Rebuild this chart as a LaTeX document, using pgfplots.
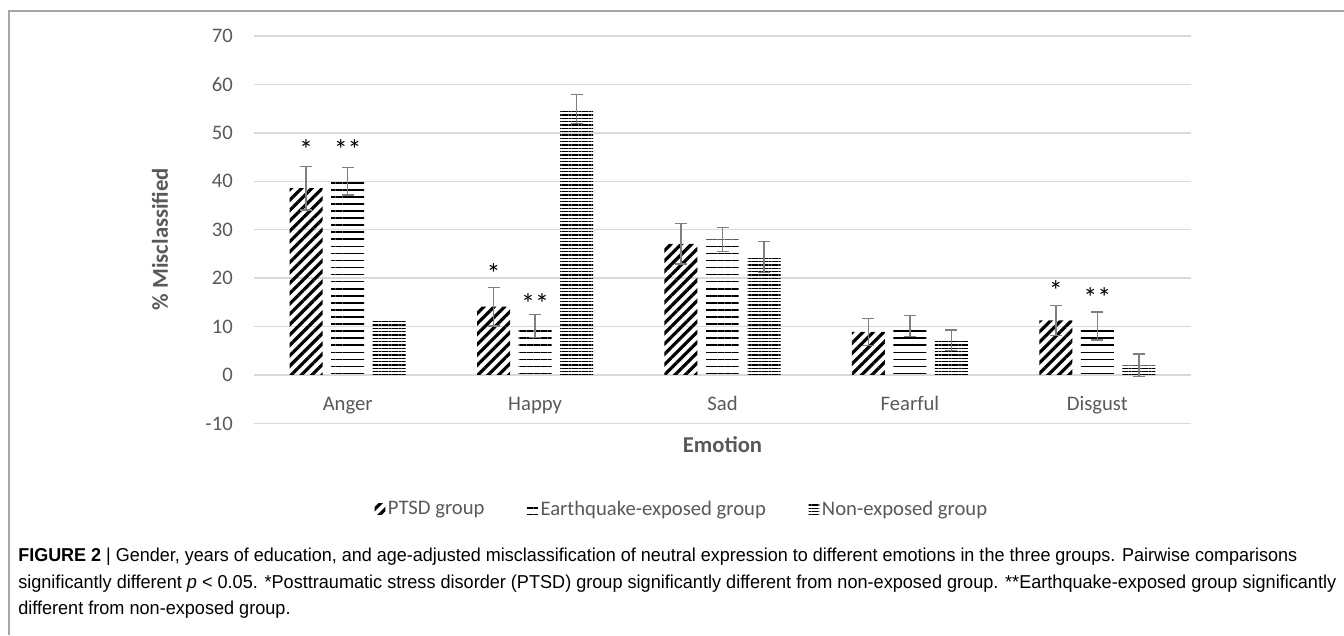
\documentclass[border=0pt]{standalone}
\usepackage{fontspec}
\setmainfont{Carlito}
\newfontfamily\capfont{Liberation Sans}
\usepackage{graphicx}
\usepackage{pgfplots}
\pgfplotsset{compat=1.18}
\usetikzlibrary{patterns.meta}
\definecolor{txt}{HTML}{595959}
\definecolor{gridc}{HTML}{D9D9D9}
\definecolor{errc}{HTML}{7F7F7F}
\definecolor{framec}{HTML}{A6A6A6}
\newsavebox\capA
\newsavebox\capB
\newsavebox\capC
\begin{document}%
\sbox\capA{\capfont\fontsize{14}{16}\selectfont {\bfseries FIGURE 2} | Gender, years of education, and age-adjusted misclassification of neutral expression to different emotions in the three groups. Pairwise comparisons}%
\sbox\capB{\capfont\fontsize{14}{16}\selectfont significantly different {\itshape p} < 0.05. *Posttraumatic stress disorder (PTSD) group significantly different from non-exposed group. **Earthquake-exposed group significantly}%
\sbox\capC{\capfont\fontsize{14}{16}\selectfont different from non-exposed group.}%
\pgfmathsetmacro\sA{959.25/(\wd\capA/1pt)}%
\pgfmathsetmacro\sB{988.5/(\wd\capB/1pt)}%
\begin{tikzpicture}
\useasboundingbox (0,0) rectangle (1008pt,476.25pt);
\draw[framec, line width=1.2pt] (6.75pt,0) -- (6.75pt,468pt) -- (1008pt,468pt);
\begin{axis}[
 at={(190.5pt,158.7pt)}, anchor=south west,
 scale only axis, width=702.75pt, height=290.5pt,
 xmin=-0.5, xmax=4.5, ymin=-10, ymax=70,
 ytick={-10,0,10,20,30,40,50,60,70},
 yticklabels={-10,0,10,20,30,40,50,60,70},
 xtick={0,1,2,3,4},
 xticklabels={Anger,Happy,Sad,Fearful,Disgust},
 axis line style={draw=none},
 major tick length=0pt,
 ymajorgrids, grid style={gridc, line width=1.1pt},
 ticklabel style={font=\fontsize{15.5}{18}\selectfont, text=txt},
 yticklabel style={anchor=east, inner sep=0pt, xshift=-15.75pt},
 xticklabel style={anchor=base, inner sep=0pt, yshift=10pt},
 xlabel={Emotion}, ylabel={\% Misclassified},
 every axis x label/.style={at={(axis description cs:0.5,-0.0558)}, anchor=center,
   font=\fontsize{17}{20}\selectfont\bfseries, text=txt},
 every axis y label/.style={at={(axis description cs:-0.1003,0.476)}, rotate=90, anchor=center,
   font=\fontsize{17}{20}\selectfont\bfseries, text=txt},
 ybar, bar shift=0pt, bar width=0.176,
 error bars/y dir=both, error bars/y explicit,
 error bars/error bar style={draw=errc, line width=1.1pt},
 error bars/error mark options={draw=errc, rotate=90, mark size=4.5pt, line width=1.1pt},
 legend columns=3,
 legend style={at={(axis description cs:0.457,-0.221)}, anchor=center, draw=none, fill=none,
   font=\fontsize{15.5}{18}\selectfont, text=txt,
   /tikz/every even column/.append style={column sep=30pt}},
 legend image code/.code={\fill[#1] (0pt,-4pt) rectangle (8pt,4pt);},
]
\addplot[draw=none, pattern={Lines[angle=45,distance=5.5pt,line width=2.4pt]}, pattern color=black]
 table[x=x, y=y, y error=e] {
x y e
-0.2216 38.6 4.5
0.7784 14.1 4.0
1.7784 27.1 4.2
2.7784 8.9 2.8
3.7784 11.3 3.1
};
\addlegendentry{PTSD group}
\addplot[draw=none, pattern={Lines[angle=0,distance=5.3pt,line width=1.2pt]}, pattern color=black]
 table[x=x, y=y, y error=e] {
x y e
0 40.0 2.8
1 10.1 2.4
2 28.0 2.5
3 10.1 2.2
4 10.1 2.9
};
\addlegendentry{Earthquake-exposed group}
\addplot[draw=none, pattern={Lines[angle=0,distance=2.5pt,line width=1.2pt]}, pattern color=black]
 table[x=x, y=y, y error=e] {
x y e
1.2216 54.9 3.0
2.2216 24.4 3.2
3.2216 7.2 2.1
4.2216 2.0 2.3
};
\addlegendentry{Non-exposed group}
\addplot[draw=none, pattern={Lines[angle=0,distance=2.5pt,line width=1.2pt]}, pattern color=black, forget plot, error bars/y dir=none]
 table[x=x, y=y] {
x y
0.2216 11.0
};
\node[font=\fontsize{21}{24}\selectfont, inner sep=0pt, anchor=base] at (axis cs:-0.2216,44.5) {*};
\node[font=\fontsize{21}{24}\selectfont, inner sep=0pt, anchor=base] at (axis cs:0,44.5) {**};
\node[font=\fontsize{21}{24}\selectfont, inner sep=0pt, anchor=base] at (axis cs:0.7784,18.8) {*};
\node[font=\fontsize{21}{24}\selectfont, inner sep=0pt, anchor=base] at (axis cs:1,12.8) {**};
\node[font=\fontsize{21}{24}\selectfont, inner sep=0pt, anchor=base] at (axis cs:3.7784,15.4) {*};
\node[font=\fontsize{21}{24}\selectfont, inner sep=0pt, anchor=base] at (axis cs:4,14.0) {**};
\end{axis}
\node[anchor=base west, inner sep=0pt] at (13.5pt,55.5pt) {\scalebox{\sA}[1]{\usebox\capA}};
\node[anchor=base west, inner sep=0pt] at (13.5pt,35.25pt) {\scalebox{\sB}[1]{\usebox\capB}};
\node[anchor=base west, inner sep=0pt] at (13.5pt,15.75pt) {\scalebox{\sB}[1]{\usebox\capC}};
\end{tikzpicture}
\end{document}
